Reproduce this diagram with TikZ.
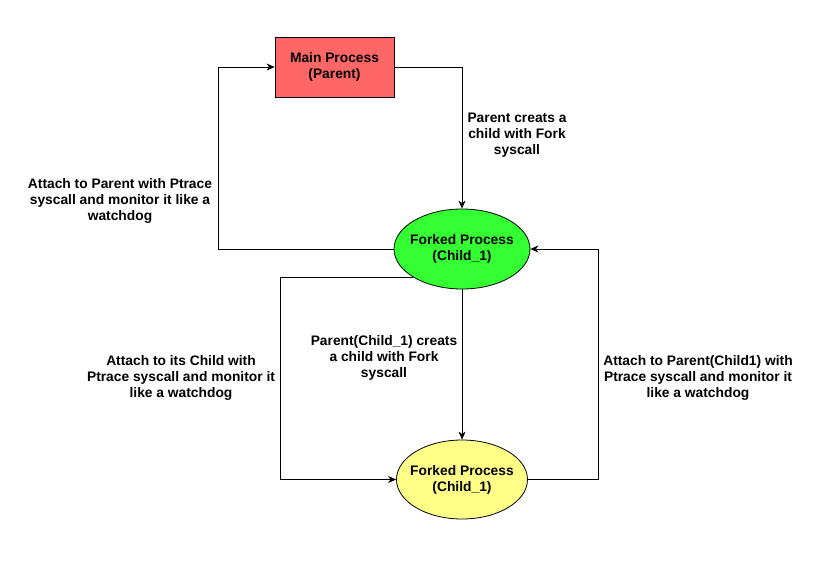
\documentclass[tikz,border=0pt]{standalone}
\usepackage{fontspec}
\setmainfont{Liberation Sans}
\usetikzlibrary{arrows.meta,shapes.geometric}
\definecolor{mainred}{HTML}{FF6666}
\definecolor{childgreen}{HTML}{33FF33}
\definecolor{childyellow}{HTML}{FFFF88}
\begin{document}
\begin{tikzpicture}[x=1pt,y=-1pt,
  every node/.style={font=\bfseries\fontsize{13.8}{16}\selectfont, align=center},
  procbox/.style={draw=black, line width=0.8pt, minimum width=119pt, minimum height=60pt, inner sep=0pt},
  procell/.style={draw=black, line width=0.8pt, ellipse, inner xsep=-6pt, inner ysep=0pt},
  conn/.style={draw=black, line width=0.8pt, -{Stealth[length=8pt,width=7pt,inset=2.5pt]}},
  lbl/.style={inner sep=1pt}
]
\useasboundingbox[fill=white] (0,0) rectangle (835,565);
\node[procbox, fill=mainred] (main) at (334.5,67) {Main Process\\(Parent)};
\node[procell, fill=childgreen, minimum width=136pt, minimum height=80pt] (c1) at (462,249) {Forked Process\\(Child\_1)};
\node[procell, fill=childyellow, minimum width=131pt, minimum height=79pt] (c2) at (462,479.5) {Forked Process\\(Child\_1)};

\coordinate (k2) at (218,67);
\coordinate (k3) at (280,479.5);
\coordinate (k5) at (598,249);

\draw[conn] (main.east) -| (c1.north);
\draw[conn] (c1.west) -| (k2) -- (main.west);
\draw[conn] (c1.210) -| (k3) -- (c2.west);
\draw[conn] (c1.south) -- (c2.north);
\draw[conn] (c2.east) -| (k5) -- (c1.east);

\node[lbl] (l1) at (517,135) {Parent creats a\\child with Fork\\syscall};
\node[lbl] (l2) at (120,201) {Attach to Parent with Ptrace\\syscall and monitor it like a\\watchdog};
\node[lbl] (l3) at (181,378) {Attach to its Child with\\Ptrace syscall and monitor it\\like a watchdog};
\node[lbl] (l4) at (384,358) {Parent(Child\_1) creats\\a child with Fork\\syscall};
\node[lbl] (l5) at (698,378) {Attach to Parent(Child1) with\\Ptrace syscall and monitor it\\like a watchdog};
\end{tikzpicture}
\end{document}
